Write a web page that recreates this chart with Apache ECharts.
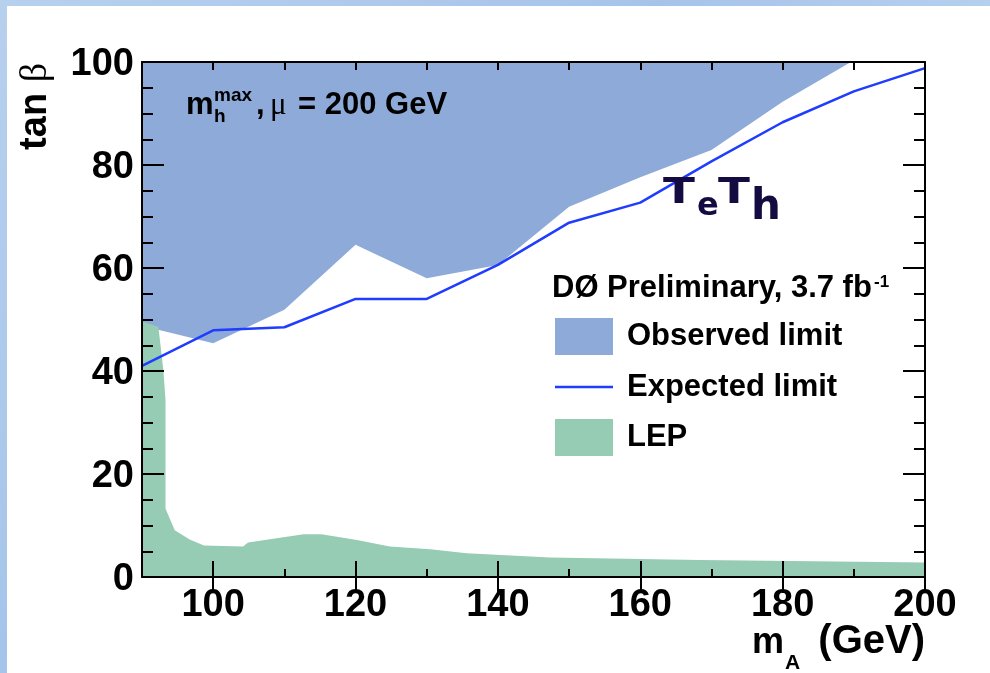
<!DOCTYPE html>
<html>
<head>
<meta charset="utf-8">
<script src="https://cdn.jsdelivr.net/npm/echarts@6/dist/echarts.min.js"></script>
<style>
  html, body { margin: 0; padding: 0; }
  body {
    width: 990px; height: 673px; overflow: hidden; position: relative;
    background: linear-gradient(135deg, #b7d0ee 0%, #a6c4ea 40%, #bdd5f0 70%, #a9c6eb 100%);
  }
  #panel { position: absolute; left: 7px; top: 6px; right: 0; bottom: 0; background: #ffffff; }
  #chart { position: absolute; left: 0; top: 0; width: 990px; height: 673px; }
</style>
</head>
<body>
<div id="panel"></div>
<div id="chart"></div>
<script>
// Excluded region boundaries in the (m_A, tan beta) plane
const observedMass = [90, 100, 110, 120, 130, 140, 150, 160, 170, 180, 189.6];
const observedTanB = [48.8, 45.4, 51.9, 64.5, 58.0, 60.6, 71.9, 77.6, 82.9, 92.3, 100];

const expectedMass = [90, 100, 110, 120, 130, 140, 150, 160, 170, 180, 190, 200];
const expectedTanB = [41.0, 47.9, 48.5, 54.0, 54.0, 60.6, 68.8, 72.7, 80.7, 88.3, 94.3, 98.8];

const lepMass = [90, 92.3, 93.0, 93.3, 93.3, 94.6, 96.7, 98.7, 104.2, 104.9, 112.7, 115.2, 120.2, 124.8, 130.5, 135.6, 147.3, 168.4, 200];
const lepTanB = [49.6, 48.6, 40.2, 34.4, 13.3, 9.1, 7.3, 6.1, 5.9, 6.7, 8.3, 8.3, 7.2, 5.9, 5.4, 4.6, 3.8, 3.3, 2.8];

const xMajorTicks = [100, 120, 140, 160, 180, 200];
const seriesNames = ['Observed limit', 'Expected limit', 'LEP'];

const zip = (xs, ys) => xs.map((x, i) => [x, ys[i]]);

const FONT = 'Liberation Sans, Arial, Helvetica, sans-serif';
const OBS_COLOR = '#8eaad9';
const EXP_COLOR = '#1f3cff';
const LEP_COLOR = '#96cbb4';
const TAG_COLOR = '#140b40';
const INK = '#000000';

const tickStyle = { color: INK, width: 2 };

function xAxisPair(position) {
  return [
    {
      type: 'value', position: position, min: 90, max: 200, interval: 10, z: 10,
      axisLine: { show: true, onZero: false, lineStyle: { color: INK, width: 2 } },
      axisTick: { show: true, inside: true, length: 8, lineStyle: tickStyle },
      axisLabel: position === 'bottom' ? {
        show: true, margin: 10, color: INK, fontFamily: FONT, fontWeight: 'bold', fontSize: 38,
        formatter: v => (v % 20 === 0 ? String(v) : '')
      } : { show: false },
      splitLine: { show: false }
    },
    {
      type: 'value', position: position, min: 90, max: 200, z: 10,
      axisLine: { show: false },
      axisTick: { show: true, inside: true, length: 16, customValues: xMajorTicks, lineStyle: tickStyle },
      axisLabel: { show: false },
      splitLine: { show: false }
    }
  ];
}

function yAxis(position) {
  return {
    type: 'value', position: position, min: 0, max: 100, interval: 20, z: 10,
    axisLine: { show: true, onZero: false, lineStyle: { color: INK, width: 2 } },
    axisTick: { show: true, inside: true, length: 22, lineStyle: tickStyle },
    minorTick: { show: true, splitNumber: 4, length: 11, lineStyle: tickStyle },
    axisLabel: position === 'left' ? {
      show: true, margin: 8, verticalAlign: 'top', lineHeight: 6,
      color: INK, fontFamily: FONT, fontWeight: 'bold', fontSize: 38
    } : { show: false },
    splitLine: { show: false }
  };
}

function txt(x, y, text, size, opts) {
  opts = opts || {};
  return {
    type: 'text', x: x, y: y, rotation: opts.rotation || 0, scaleX: opts.scaleX || 1, z: 100,
    style: {
      text: text,
      font: (opts.weight || 'bold') + ' ' + size + 'px ' + (opts.family || FONT),
      fill: opts.fill || INK,
      textAlign: opts.align || 'left',
      textVerticalAlign: opts.valign || 'bottom'
    }
  };
}

const TAG = { fill: TAG_COLOR, family: 'DejaVu Sans, sans-serif' };

const chart = echarts.init(document.getElementById('chart'), null, { renderer: 'canvas' });

chart.setOption({
  animation: false,
  backgroundColor: 'transparent',
  grid: { left: 142, top: 62, width: 783, height: 515, containLabel: false },
  xAxis: [...xAxisPair('bottom'), ...xAxisPair('top')],
  yAxis: [yAxis('left'), yAxis('right')],
  legend: {
    orient: 'vertical', left: 555, top: 318, padding: 0, itemWidth: 58, itemHeight: 37, itemGap: 16.5,
    selectedMode: false,
    textStyle: { color: INK, fontFamily: FONT, fontWeight: 'bold', fontSize: 31, padding: [0, 0, 0, 9] },
    data: [
      { name: seriesNames[0], icon: 'rect', itemStyle: { color: OBS_COLOR, borderWidth: 0 } },
      { name: seriesNames[1], icon: 'path://M0,0H58V2.5H0Z', itemStyle: { color: EXP_COLOR, borderWidth: 0 } },
      { name: seriesNames[2], icon: 'rect', itemStyle: { color: LEP_COLOR, borderWidth: 0 } }
    ]
  },
  series: [
    {
      name: seriesNames[0], type: 'line', xAxisIndex: 0, yAxisIndex: 0, z: 1,
      data: zip(observedMass, observedTanB), showSymbol: false, symbol: 'none',
      itemStyle: { color: OBS_COLOR },
      lineStyle: { width: 0, color: OBS_COLOR },
      areaStyle: { color: OBS_COLOR, opacity: 1, origin: 'end' }
    },
    {
      name: seriesNames[2], type: 'line', xAxisIndex: 0, yAxisIndex: 0, z: 2,
      data: zip(lepMass, lepTanB), showSymbol: false, symbol: 'none',
      itemStyle: { color: LEP_COLOR },
      lineStyle: { width: 0, color: LEP_COLOR },
      areaStyle: { color: LEP_COLOR, opacity: 1, origin: 'start' }
    },
    {
      name: seriesNames[1], type: 'line', xAxisIndex: 0, yAxisIndex: 0, z: 3,
      data: zip(expectedMass, expectedTanB), showSymbol: false, symbol: 'none',
      itemStyle: { color: EXP_COLOR },
      lineStyle: { width: 2.5, color: EXP_COLOR }
    }
  ],
  graphic: [
    // axis titles
    txt(752, 661, 'm', 36),
    txt(785, 674, 'A', 21),
    txt(925, 662, '(GeV)', 40, { align: 'right' }),
    {
      type: 'text', x: 36, y: 63, rotation: Math.PI / 2, z: 100,
      style: {
        text: '{b|tan }{g|β}', textAlign: 'right', textVerticalAlign: 'middle',
        rich: {
          b: { font: 'bold 38px ' + FONT, fill: INK },
          g: { font: 'normal 38px Liberation Serif, serif', fill: INK }
        }
      }
    },
    // scenario label
    txt(186, 121, 'm', 31),
    txt(214, 105, 'max', 19),
    txt(214, 126, 'h', 19),
    txt(256, 121, ',', 31),
    txt(270, 121, 'μ', 31, { weight: 'normal', family: 'Liberation Serif, serif' }),
    txt(298, 121, '= 200 GeV', 31),
    // legend header
    txt(552, 304, 'DØ Preliminary, 3.7 fb', 31),
    txt(874, 291, '-1', 17),
    // channel tag
    txt(663, 212, 'T', 36, Object.assign({ scaleX: 1.3 }, TAG)),
    txt(697, 223, 'e', 32, TAG),
    txt(718, 212, 'T', 36, Object.assign({ scaleX: 1.3 }, TAG)),
    txt(751, 229, 'h', 42, TAG)
  ]
});
</script>
</body>
</html>
